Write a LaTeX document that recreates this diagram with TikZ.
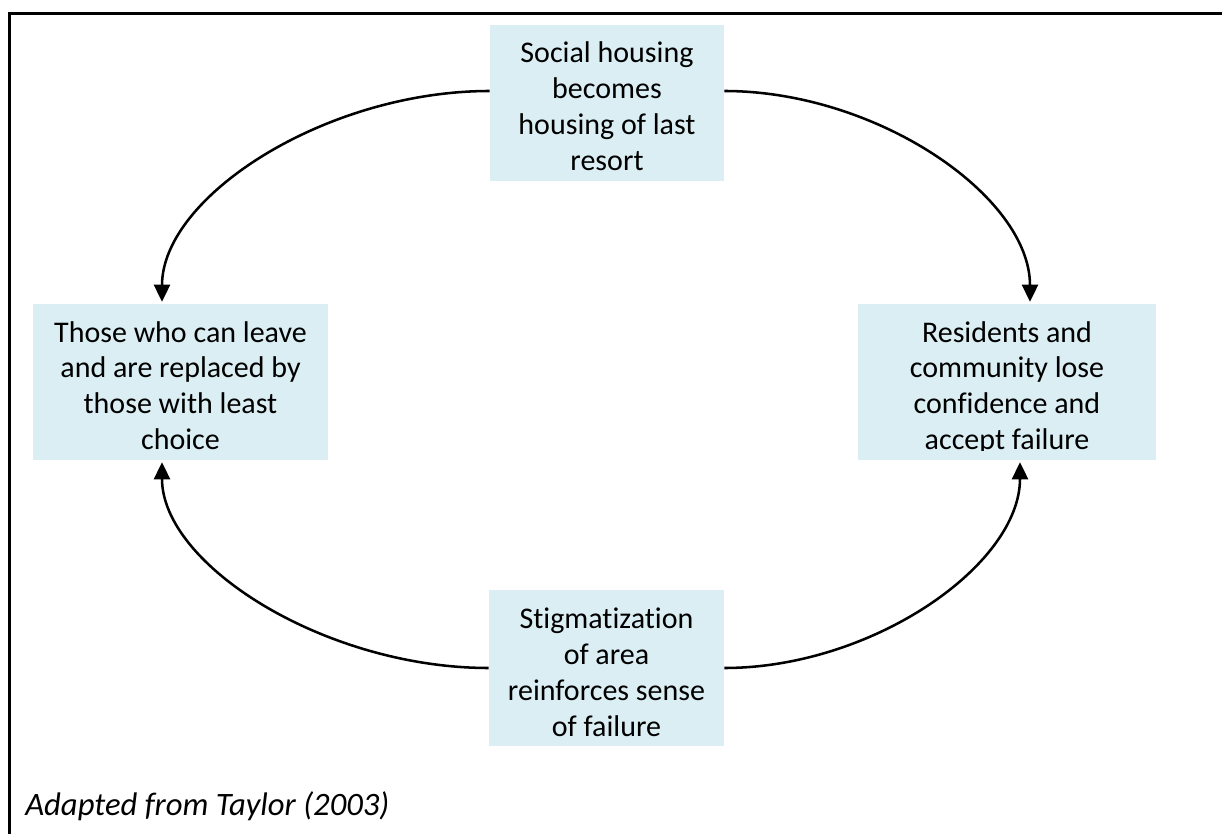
\documentclass[tikz,border=0pt]{standalone}
\usepackage{fontspec}
\setmainfont{Carlito}[Ligatures=NoCommon]
\usetikzlibrary{arrows.meta,calc}
\definecolor{boxfill}{HTML}{DAEEF3}
% strut that fixes the height of each first text line
\newcommand{\firststrut}{\rule{0pt}{21pt}}
\begin{document}
\begin{tikzpicture}[x=0.75pt,y=-0.75pt,
  stagebox/.style={fill=boxfill, draw=none, inner sep=0pt, minimum height=117pt},
  stagetext/.style={anchor=north, align=center, inner sep=0pt,
    font=\fontsize{22.5pt}{27pt}\selectfont},
  flow/.style={line width=1.9pt, -{Triangle[length=12.75pt,width=12pt]}}]
\useasboundingbox (0,0) rectangle (1222,834);

% frame (top and left rules)
\draw[line width=2.25pt] (9.5,834) -- (9.5,13.5) -- (1222,13.5);

% the four stages of the cycle
\node[stagebox, minimum width=175.5pt]  (top)    at (607,103)   {};
\node[stagebox, minimum width=221.25pt] (left)   at (180.5,382) {};
\node[stagebox, minimum width=223.5pt]  (right)  at (1007,382)  {};
\node[stagebox, minimum width=176.25pt] (bottom) at (606.5,668) {};

\begin{scope}
  \clip (top.north west) rectangle ($(top.south east)+(0,-10)$);
  \node[stagetext] (top-t) at ($(top.north)+(0,10)$)
    {\firststrut Social housing\\becomes\\housing of last\\resort};
\end{scope}
\begin{scope}
  \clip (left.north west) rectangle ($(left.south east)+(0,-10)$);
  \node[stagetext] (left-t) at ($(left.north)+(0,10)$)
    {\firststrut Those who can leave\\and are replaced by\\those with least\\choice};
\end{scope}
\begin{scope}
  \clip (right.north west) rectangle ($(right.south east)+(0,-10)$);
  \node[stagetext] (right-t) at ($(right.north)+(0,10)$)
    {\firststrut Residents and\\community lose\\confidence and\\accept failure};
\end{scope}
\begin{scope}
  \clip (bottom.north west) rectangle ($(bottom.south east)+(0,-10)$);
  \node[stagetext] (bottom-t) at ($(bottom.north)+(0,10)$)
    {\firststrut Stigmatization\\of area\\reinforces sense\\of failure};
\end{scope}

% connector end points
\coordinate (tl-s) at ($(top.west)+(0,-12)$);
\coordinate (tl-e) at ($(left.north)+(-18.5,-2)$);
\coordinate (tr-s) at ($(top.east)+(0,-12)$);
\coordinate (tr-e) at ($(right.north)+(23,-2)$);
\coordinate (bl-s) at (bottom.west);
\coordinate (bl-e) at ($(left.south)+(-18.5,2)$);
\coordinate (br-s) at (bottom.east);
\coordinate (br-e) at ($(right.south)+(13,2)$);
% corner points of each bend
\coordinate (tl-c) at (tl-s -| tl-e);
\coordinate (tr-c) at (tr-s -| tr-e);
\coordinate (bl-c) at (bl-s -| bl-e);
\coordinate (br-c) at (br-s -| br-e);

\draw[flow] (tl-s) .. controls ($(tl-s)!0.5!(tl-c)$) and ($(tl-e)!0.5!(tl-c)$) .. (tl-e);
\draw[flow] (tr-s) .. controls ($(tr-s)!0.5!(tr-c)$) and ($(tr-e)!0.5!(tr-c)$) .. (tr-e);
\draw[flow] (bl-s) .. controls ($(bl-s)!0.5!(bl-c)$) and ($(bl-e)!0.5!(bl-c)$) .. (bl-e);
\draw[flow] (br-s) .. controls ($(br-s)!0.5!(br-c)$) and ($(br-e)!0.5!(br-c)$) .. (br-e);

% source note
\node[anchor=base west, inner sep=0pt, font=\itshape\fontsize{24.5pt}{29pt}\selectfont]
  (src) at (25,815) {Adapted from Taylor (2003)};
\end{tikzpicture}
\end{document}
